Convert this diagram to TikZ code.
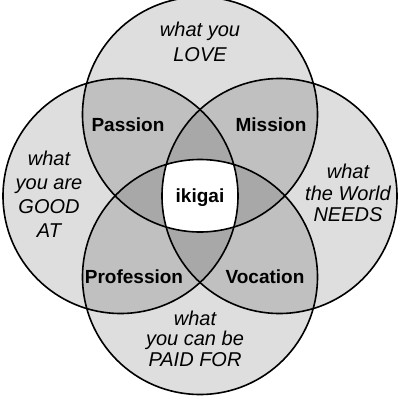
\documentclass[tikz,border=0pt]{standalone}
\usepackage{fontspec}
\setmainfont{Liberation Sans}
\definecolor{gsingle}{HTML}{DEDEDE}
\definecolor{gdouble}{HTML}{C0C0C0}
\definecolor{gtriple}{HTML}{A8A8A8}
\begin{document}
\begin{tikzpicture}[x=1pt,y=-1pt,
  ital/.style={align=center,inner sep=0pt,anchor=north},
  boldlab/.style={font=\fontsize{19}{22}\selectfont\bfseries,inner sep=0pt,anchor=base},
  ring/.style={line width=1.6pt,draw=black}]
\useasboundingbox (0,0) rectangle (400,400);
\fill[white] (0,0) rectangle (400,400);
\def\CT{(200,114.5) circle[radius=117.5pt]}
\def\CB{(200,277) circle[radius=117.5pt]}
\def\CL{(120.5,196) circle[radius=117.5pt]}
\def\CR{(279.5,196) circle[radius=117.5pt]}
% single
\fill[gsingle] \CT; \fill[gsingle] \CB; \fill[gsingle] \CL; \fill[gsingle] \CR;
% doubles
\begin{scope}\clip \CT; \fill[gdouble] \CL; \fill[gdouble] \CR; \fill[gdouble] \CB;\end{scope}
\begin{scope}\clip \CB; \fill[gdouble] \CL; \fill[gdouble] \CR;\end{scope}
\begin{scope}\clip \CL; \fill[gdouble] \CR;\end{scope}
% triples
\begin{scope}\clip \CT; \clip \CL; \fill[gtriple] \CR; \fill[gtriple] \CB;\end{scope}
\begin{scope}\clip \CB; \clip \CR; \fill[gtriple] \CL; \fill[gtriple] \CT;\end{scope}
% quadruple
\begin{scope}\clip \CT; \clip \CB; \clip \CL; \fill[white] \CR;\end{scope}
% outlines
\draw[ring] \CT; \draw[ring] \CB; \draw[ring] \CL; \draw[ring] \CR;
% labels
\node[ital,font=\fontsize{20}{25.3}\selectfont\itshape] (love) at (200,21.4) {what you\\LOVE};
\node[ital,font=\fontsize{20}{24}\selectfont\itshape] (good) at (49,150.7) {what\\you are\\GOOD\\AT};
\node[ital,font=\fontsize{20}{21.5}\selectfont\itshape] (needs) at (348,164) {what\\the World\\NEEDS};
\node[ital,font=\fontsize{20}{20.5}\selectfont\itshape] (paid) at (195,310.7) {what\\you can be\\PAID FOR};
\node[boldlab] (passion) at (128,131.7) {Passion};
\node[boldlab] (mission) at (271,131.7) {Mission};
\node[boldlab] (ikigai) at (200,202.7) {ikigai};
\node[boldlab] (profession) at (134,283) {Profession};
\node[boldlab] (vocation) at (265,283) {Vocation};
\end{tikzpicture}
\end{document}
